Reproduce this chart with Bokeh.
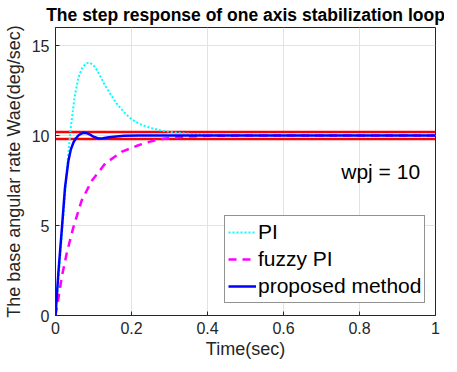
from bokeh.plotting import figure
from bokeh.models import (Range1d, FixedTicker, CustomJSTickFormatter, Legend, LegendItem,
                          Label)
from bokeh.embed import file_html
from bokeh.resources import INLINE

# ---- data ----
pi_t = [0, 0.01, 0.02, 0.03, 0.04, 0.05, 0.06, 0.07, 0.08, 0.09, 0.10, 0.11, 0.12, 0.13,
        0.14, 0.16, 0.18, 0.20, 0.22, 0.25, 0.28, 0.32, 0.36, 0.40, 0.50, 0.60, 1.0]
pi_y = [0, 2.6, 5.4, 8.1, 10.4, 12.1, 13.2, 13.75, 14.0, 14.05, 13.9, 13.6, 13.2, 12.8,
        12.45, 11.8, 11.3, 10.9, 10.65, 10.42, 10.27, 10.15, 10.08, 10.04, 10.01, 10.0, 10.0]

fuzzy_t = [0, 0.005, 0.017, 0.03, 0.047, 0.069, 0.096, 0.131, 0.175, 0.218, 0.262, 0.30,
           0.35, 0.40, 0.50, 1.0]
fuzzy_y = [0, 0.6, 2.2, 3.5, 4.9, 6.4, 7.5, 8.45, 9.1, 9.46, 9.74, 9.87,
           9.95, 9.98, 10.0, 10.0]

prop_t = [0, 0.008, 0.017, 0.025, 0.034, 0.04, 0.047, 0.054, 0.06, 0.067, 0.074, 0.082,
          0.09, 0.10, 0.113, 0.125, 0.14, 0.16, 0.18, 0.22, 0.30, 1.0]
prop_y = [0, 2.5, 4.9, 7.1, 8.6, 9.2, 9.6, 9.85, 10.0, 10.1, 10.15, 10.13,
          10.06, 9.93, 9.84, 9.85, 9.9, 9.95, 9.98, 10.0, 10.0, 10.0]

band_t = [0, 1]
band_upper = [10.2, 10.2]
band_lower = [9.8, 9.8]

x_ticks = [0, 0.2, 0.4, 0.6, 0.8, 1]
y_ticks = [0, 5, 10, 15]

series_names = ["PI", "fuzzy PI", "proposed method"]
note_text = "wpj = 10"

FONT = "Liberation Sans"
DARK = "#262626"

p = figure(frame_width=380, frame_height=288, output_backend="svg", toolbar_location=None,
           x_range=Range1d(0, 1), y_range=Range1d(0, 16),
           min_border_left=52, min_border_right=9, min_border_top=25, min_border_bottom=46)

p.title.text = "The step response of one axis stabilization loop"
p.title.text_font = FONT
p.title.text_font_size = "17.5px"
p.title.text_font_style = "bold"
p.title.text_color = "#000000"
p.title.align = "center"
p.title.standoff = 5
p.title.offset = 0

p.outline_line_color = DARK
p.outline_line_width = 1
p.background_fill_color = "white"
p.border_fill_color = "white"

for ax in (p.xaxis[0], p.yaxis[0]):
    ax.major_tick_in = 4
    ax.major_tick_out = 0
    ax.minor_tick_line_color = None
    ax.axis_line_color = DARK
    ax.major_tick_line_color = DARK
    ax.major_label_text_font = FONT
    ax.major_label_text_font_size = "16px"
    ax.major_label_text_color = DARK
    ax.axis_label_text_font = FONT
    ax.axis_label_text_font_size = "18px"
    ax.axis_label_text_font_style = "normal"
    ax.axis_label_text_color = DARK

p.xaxis.ticker = FixedTicker(ticks=x_ticks)
p.yaxis.ticker = FixedTicker(ticks=y_ticks)
p.xaxis.formatter = CustomJSTickFormatter(code="return String(tick)")
p.yaxis.formatter = CustomJSTickFormatter(code="return String(tick)")
p.xaxis.axis_label = "Time(sec)"
p.yaxis.axis_label = "The base angular rate Wae(deg/sec)"
p.xaxis.major_label_standoff = 6
p.yaxis.major_label_standoff = 6
p.xaxis.axis_label_standoff = 2
p.yaxis.axis_label_standoff = 5

p.xgrid.ticker = FixedTicker(ticks=x_ticks)
p.ygrid.ticker = FixedTicker(ticks=y_ticks)
p.grid.grid_line_color = "#e3e3e3"
p.grid.grid_line_width = 1

# band lines
p.line(band_t, band_upper, line_color="#ff0000", line_width=2.5)
p.line(band_t, band_lower, line_color="#ff0000", line_width=2.5)

r_pi = p.line(pi_t, pi_y, line_color="#00ffff", line_width=2, line_dash="2 2")
r_fz = p.line(fuzzy_t, fuzzy_y, line_color="#ff00ff", line_width=2.5, line_dash="8 6")
r_pr = p.line(prop_t, prop_y, line_color="#0000ff", line_width=2.5)

legend = Legend(items=[LegendItem(label=series_names[0], renderers=[r_pi]),
                       LegendItem(label=series_names[1], renderers=[r_fz]),
                       LegendItem(label=series_names[2], renderers=[r_pr])],
                location=(169, 12))
legend.label_text_font = FONT
legend.label_text_font_size = "21px"
legend.label_text_color = "#000000"
legend.glyph_width = 28
legend.glyph_height = 20
legend.label_height = 26
legend.label_standoff = 2
legend.spacing = 1
legend.padding = 3
legend.margin = 0
legend.border_line_color = DARK
legend.border_line_width = 1
legend.background_fill_color = "white"
legend.background_fill_alpha = 1
p.add_layout(legend, "center")

p.add_layout(Label(x=0.752, y=8.0, text=note_text, text_font=FONT, text_font_size="21px",
                   text_color="#000000", text_baseline="alphabetic"))

open("out.html", "w").write(file_html(p, INLINE))
